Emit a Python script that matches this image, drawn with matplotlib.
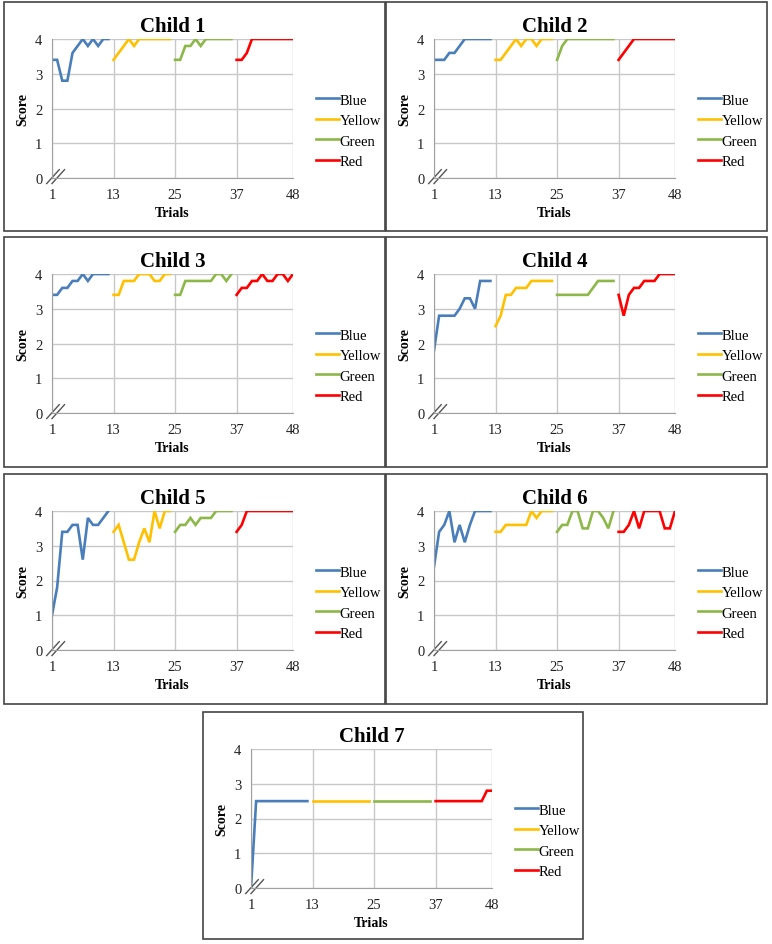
import numpy as np
import matplotlib
matplotlib.use("Agg")
import matplotlib.pyplot as plt
from matplotlib.patches import Rectangle
from matplotlib.lines import Line2D

W, H = 772, 945

children = ["Child 1", "Child 2", "Child 3", "Child 4", "Child 5", "Child 6", "Child 7"]
series_names = ["Blue", "Yellow", "Green", "Red"]
series_colors = ["#4a7ebb", "#ffc000", "#8db849", "#ff0000"]
x_ticks = [1, 13, 25, 37, 48]

blue = [
    [3.4, 3.4, 2.8, 2.8, 3.6, 3.8, 4.0, 3.8, 4.0, 3.8, 4.0, 4.0],
    [3.4, 3.4, 3.4, 3.6, 3.6, 3.8, 4.0, 4.0, 4.0, 4.0, 4.0, 4.0],
    [3.4, 3.4, 3.6, 3.6, 3.8, 3.8, 4.0, 3.8, 4.0, 4.0, 4.0, 4.0],
    [1.8, 2.8, 2.8, 2.8, 2.8, 3.0, 3.3, 3.3, 3.0, 3.8, 3.8, 3.8],
    [1.0, 1.8, 3.4, 3.4, 3.6, 3.6, 2.6, 3.8, 3.6, 3.6, 3.8, 4.0],
    [2.4, 3.4, 3.6, 4.0, 3.1, 3.6, 3.1, 3.6, 4.0, 4.0, 4.0, 4.0],
    [0.0, 2.5, 2.5, 2.5, 2.5, 2.5, 2.5, 2.5, 2.5, 2.5, 2.5, 2.5],
]
yellow = [
    [3.4, 3.6, 3.8, 4.0, 3.8, 4.0, 4.0, 4.0, 4.0, 4.0, 4.0, 4.0],
    [3.4, 3.4, 3.6, 3.8, 4.0, 3.8, 4.0, 4.0, 3.8, 4.0, 4.0, 4.0],
    [3.4, 3.4, 3.8, 3.8, 3.8, 4.0, 4.0, 4.0, 3.8, 3.8, 4.0, 4.0],
    [2.5, 2.8, 3.4, 3.4, 3.6, 3.6, 3.6, 3.8, 3.8, 3.8, 3.8, 3.8],
    [3.4, 3.6, 3.1, 2.6, 2.6, 3.1, 3.5, 3.1, 4.0, 3.5, 4.0, 4.0],
    [3.4, 3.4, 3.6, 3.6, 3.6, 3.6, 3.6, 4.0, 3.8, 4.0, 4.0, 4.0],
    [2.5, 2.5, 2.5, 2.5, 2.5, 2.5, 2.5, 2.5, 2.5, 2.5, 2.5, 2.5],
]
green = [
    [3.4, 3.4, 3.8, 3.8, 4.0, 3.8, 4.0, 4.0, 4.0, 4.0, 4.0, 4.0],
    [3.4, 3.8, 4.0, 4.0, 4.0, 4.0, 4.0, 4.0, 4.0, 4.0, 4.0, 4.0],
    [3.4, 3.4, 3.8, 3.8, 3.8, 3.8, 3.8, 3.8, 4.0, 4.0, 3.8, 4.0],
    [3.4, 3.4, 3.4, 3.4, 3.4, 3.4, 3.4, 3.6, 3.8, 3.8, 3.8, 3.8],
    [3.4, 3.6, 3.6, 3.8, 3.6, 3.8, 3.8, 3.8, 4.0, 4.0, 4.0, 4.0],
    [3.4, 3.6, 3.6, 4.0, 4.0, 3.5, 3.5, 4.0, 4.0, 3.8, 3.5, 4.0],
    [2.5, 2.5, 2.5, 2.5, 2.5, 2.5, 2.5, 2.5, 2.5, 2.5, 2.5, 2.5],
]
red = [
    [3.4, 3.4, 3.6, 4.0, 4.0, 4.0, 4.0, 4.0, 4.0, 4.0, 4.0, 4.0],
    [3.4, 3.6, 3.8, 4.0, 4.0, 4.0, 4.0, 4.0, 4.0, 4.0, 4.0, 4.0],
    [3.4, 3.6, 3.6, 3.8, 3.8, 4.0, 3.8, 3.8, 4.0, 4.0, 3.8, 4.0],
    [3.4, 2.8, 3.4, 3.6, 3.6, 3.8, 3.8, 3.8, 4.0, 4.0, 4.0, 4.0],
    [3.4, 3.6, 4.0, 4.0, 4.0, 4.0, 4.0, 4.0, 4.0, 4.0, 4.0, 4.0],
    [3.4, 3.4, 3.6, 4.0, 3.5, 4.0, 4.0, 4.0, 4.0, 3.5, 3.5, 4.0],
    [2.5, 2.5, 2.5, 2.5, 2.5, 2.5, 2.5, 2.5, 2.5, 2.5, 2.8, 2.8],
]

# panel boxes in pixels: left, top, width, height
boxes = [
    (4, 3, 381, 229), (386, 3, 381, 229),
    (4, 238, 381, 230), (386, 238, 381, 230),
    (4, 475, 381, 230), (386, 475, 381, 230),
    (203, 713, 380, 227),
]

plt.rcParams["font.family"] = ["Liberation Serif", "DejaVu Serif"]
fig = plt.figure(figsize=(W / 100, H / 100), dpi=100)


def px_axes(left, top, w, h):
    return fig.add_axes([left / W, 1 - (top + h) / H, w / W, h / H])


for i, name in enumerate(children):
    bl, bt, bw, bh = boxes[i]
    fig.patches.append(Rectangle((bl / W, 1 - (bt + bh) / H), bw / W, bh / H,
                                 transform=fig.transFigure, fill=False,
                                 edgecolor="#444444", lw=1.2))
    ax = px_axes(bl + 48, bt + 37, 241, 139)
    data = [blue[i], yellow[i], green[i], red[i]]
    for k, (vals, col, lab) in enumerate(zip(data, series_colors, series_names)):
        xs = np.arange(1, 13) + 12 * k
        ax.plot(xs, vals, color=col, lw=1.9, label=lab, solid_joinstyle="miter")
    ax.set_xlim(1, 48)
    ax.set_ylim(0, 4)
    ax.set_xticks(x_ticks)
    ax.set_yticks([0, 1, 2, 3, 4])
    ax.grid(True, color="#c8c8c8", lw=1.0)
    ax.set_axisbelow(True)
    for s in ["top", "right"]:
        ax.spines[s].set_visible(False)
    for s in ["left", "bottom"]:
        ax.spines[s].set_color("#a0a0a0")
    ax.tick_params(length=0, labelsize=10.5, pad=7, colors="#222222")
    ax.set_xlabel("Trials", fontsize=10, fontweight="bold", labelpad=4)
    ax.set_ylabel("Score", fontsize=10, fontweight="bold", labelpad=4)
    ax.set_title(name, fontsize=15, fontweight="bold", pad=6)
    # axis break mark at the origin
    for d in (0.0, 0.022):
        ax.add_line(Line2D([-0.022 + d, 0.030 + d], [-0.04, 0.06], transform=ax.transAxes,
                           color="#555555", lw=1.0, clip_on=False))
    ax.legend(loc="center left", bbox_to_anchor=(1.07, 0.34), frameon=False,
              fontsize=10.5, handlelength=1.6, handletextpad=0.05, labelspacing=0.5,
              borderaxespad=0)

fig.savefig("out.png", dpi=100)
